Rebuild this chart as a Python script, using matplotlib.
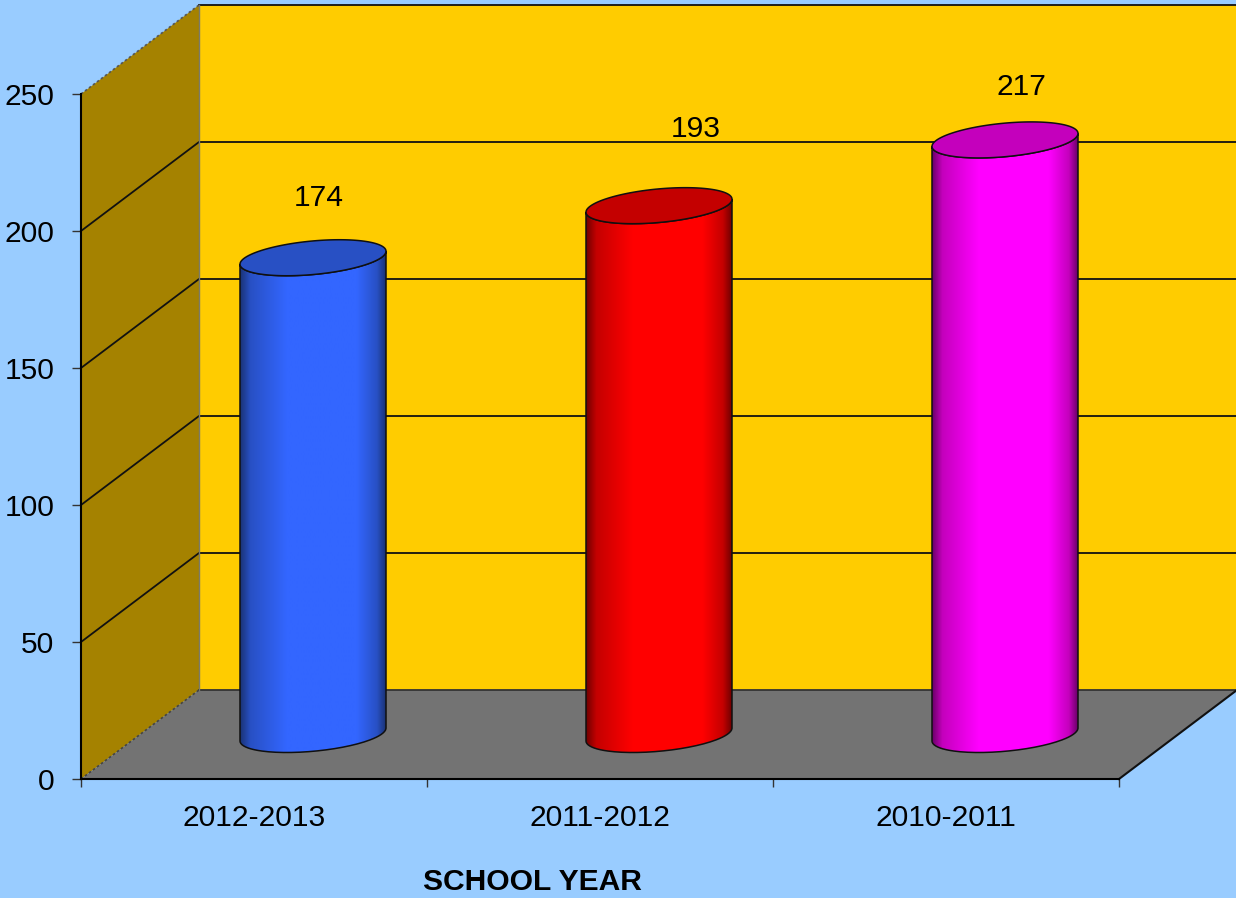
import numpy as np
import matplotlib
matplotlib.use('Agg')
import matplotlib.pyplot as plt
from matplotlib.colors import LinearSegmentedColormap
from matplotlib.patches import PathPatch, Polygon
from matplotlib.path import Path

# chart values
years = ['2012-2013', '2011-2012', '2010-2011']
students = [174, 193, 217]
y_ticks = [0, 50, 100, 150, 200, 250]

# colours
bar_colors = ['#3366FF', '#FF0000', '#FF00FF']
top_colors = ['#2850C4', '#C40000', '#C400BC']
edge_dark = ['#1A3375', '#700000', '#6A0068']
BG = '#99CCFF'
BACK_WALL = '#FFCC00'
SIDE_WALL = '#A58200'
FLOOR = '#737373'

# how the picture is laid out, in pixels
W, H = 1236, 898
PX_X0, PX_Y0 = 81, 779     # front corner of the chart box
PX_CAT = 346               # one category wide
PX_UNIT = 2.74             # one y unit high
PX_DEPTH_X, PX_DEPTH_Y = 118, 89

DX = PX_DEPTH_X / PX_CAT
DY = PX_DEPTH_Y / PX_UNIT
RX = 73 / PX_CAT           # cylinder radius
SHEAR = 6.5 / PX_UNIT      # tilt of the ellipses
RY = 16.8 / PX_UNIT

# data label shifts from the top of each cylinder, in pixels
label_shift = [(6, 60), (37, 77), (16, 53)]


def ellipse(xc, yc, t):
    return xc + RX * np.cos(t), yc + SHEAR * np.cos(t) + RY * np.sin(t)


def draw_cylinder(ax, i, value):
    xc = i + DX / 2
    y0 = DY / 2
    y1 = DY / 2 + value

    # body outline: up the right side, over the top, round the lower front
    t_low = np.linspace(np.pi, 2 * np.pi, 80)
    xb, yb = ellipse(xc, y0, t_low)
    xt, yt = ellipse(xc, y1, t_low[::-1])
    body = Path(np.vstack([np.column_stack([xb, yb]),
                           np.column_stack([xt, yt]),
                           [[xb[0], yb[0]]]]), closed=False)

    cmap = LinearSegmentedColormap.from_list(
        'cyl', [(0, edge_dark[i]), (0.07, top_colors[i]), (0.32, bar_colors[i]),
                (0.8, bar_colors[i]), (0.94, top_colors[i]), (1, edge_dark[i])])
    im = ax.imshow(np.linspace(0, 1, 256).reshape(1, -1), cmap=cmap, aspect='auto',
                   extent=(xc - RX, xc + RX, y0 - 20, y1 + 20), zorder=4,
                   interpolation='bilinear')
    outline = PathPatch(body, fc='none', ec='#101010', lw=1.1, zorder=5)
    ax.add_patch(outline)
    im.set_clip_path(outline)

    # lid
    t = np.linspace(0, 2 * np.pi, 160)
    xl, yl = ellipse(xc, y1, t)
    ax.add_patch(Polygon(np.column_stack([xl, yl]), closed=True, fc=top_colors[i],
                         ec='#101010', lw=1.1, zorder=6))

    dx, dy = label_shift[i]
    ax.annotate(str(value), xy=(xc, y1), xytext=(dx * 0.72, dy * 0.72),
                textcoords='offset points', ha='center', va='center',
                fontsize=21.6, color='black', zorder=7)


def main():
    plt.rcParams['font.family'] = ['Liberation Sans', 'DejaVu Sans']

    fig = plt.figure(figsize=(W / 100, H / 100), dpi=100, facecolor=BG)
    ax = fig.add_axes([0, 0, 1, 1], facecolor=BG)

    x_left = -0.5 - PX_X0 / PX_CAT
    x_right = -0.5 + (W - PX_X0) / PX_CAT
    y_bottom = -(H - PX_Y0) / PX_UNIT
    y_top = PX_Y0 / PX_UNIT

    x0, x1 = -0.5, 2.5
    top = y_ticks[-1]

    # walls and floor
    ax.add_patch(Polygon([(x0 + DX, DY), (x1 + DX + 1, DY), (x1 + DX + 1, DY + top),
                          (x0 + DX, DY + top)], fc=BACK_WALL, ec='none', zorder=1))
    ax.add_patch(Polygon([(x0, 0), (x0 + DX, DY), (x0 + DX, DY + top), (x0, top)],
                         fc=SIDE_WALL, ec='none', zorder=1))
    ax.add_patch(Polygon([(x0, 0), (x1, 0), (x1 + DX, DY), (x0 + DX, DY)],
                         fc=FLOOR, ec='none', zorder=1))

    # grid lines run along the side wall, then across the back
    for v in y_ticks[1:-1]:
        ax.plot([x0, x0 + DX, x1 + DX + 1], [v, v + DY, v + DY], color='#111111',
                lw=1.3, zorder=2, solid_joinstyle='miter')
    ax.plot([x0 + DX, x1 + DX + 1], [top + DY, top + DY], color='#111111', lw=1.3, zorder=2)
    ax.plot([x0 + DX, x1 + DX + 1], [DY, DY], color='#333333', lw=1.3, zorder=2)
    ax.plot([x0 + DX, x0 + DX], [DY, DY + top], color='#7a7a6a', lw=1, zorder=2)
    ax.plot([x0, x0 + DX], [0, DY], color='#444444', lw=1.2, ls=(0, (1.5, 1.5)), zorder=2)
    ax.plot([x0, x0 + DX], [top, top + DY], color='#555555', lw=1.2, ls=(0, (1.5, 1.5)), zorder=2)
    ax.plot([x1, x1 + DX], [0, DY], color='#111111', lw=1.5, zorder=2)

    for i, value in enumerate(students):
        draw_cylinder(ax, i, value)

    # imshow moves the limits, so set them after the bars
    ax.set_xlim(x_left, x_right)
    ax.set_ylim(y_bottom, y_top)

    for side in ['top', 'right']:
        ax.spines[side].set_visible(False)
    ax.spines['left'].set_position(('data', x0))
    ax.spines['left'].set_bounds(0, top)
    ax.spines['bottom'].set_position(('data', 0))
    ax.spines['bottom'].set_bounds(x0, x1)
    ax.spines['left'].set_linewidth(1.5)
    ax.spines['bottom'].set_linewidth(1.5)
    ax.spines['left'].set_zorder(3)
    ax.spines['bottom'].set_zorder(3)

    ax.set_yticks(y_ticks)
    ax.set_yticklabels([str(v) for v in y_ticks])
    ax.set_xticks(np.arange(len(years) + 1) - 0.5)
    ax.set_xticklabels([])
    ax.set_xticks(np.arange(len(years)), labels=years, minor=True)
    ax.tick_params(axis='y', length=6.5, width=1, color='#333333', pad=12.7, labelsize=21.6)
    ax.tick_params(axis='x', which='major', length=6, width=1, color='#333333')
    ax.tick_params(axis='x', which='minor', length=0, pad=18, labelsize=21.6)

    ax.text(532 / W, 1 - 882.5 / H, 'SCHOOL YEAR', transform=ax.transAxes, ha='center',
            va='center', fontsize=21.6, fontweight='bold', color='black')

    fig.savefig('out.png', dpi=100, facecolor=BG)
    plt.close(fig)


if __name__ == '__main__':
    main()
